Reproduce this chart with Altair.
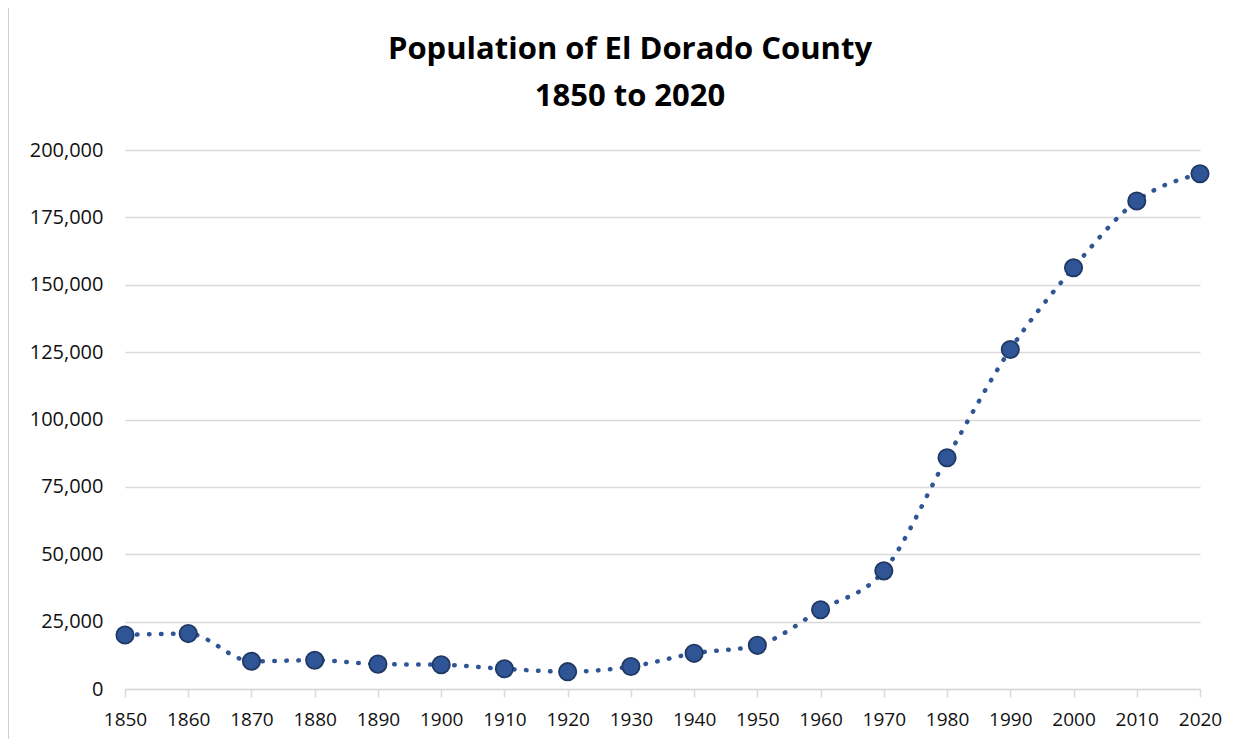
import altair as alt
import pandas as pd

years = [1850, 1860, 1870, 1880, 1890, 1900, 1910, 1920, 1930, 1940,
         1950, 1960, 1970, 1980, 1990, 2000, 2010, 2020]
population = [20057, 20562, 10309, 10683, 9232, 8986, 7492, 6426, 8325, 13229,
              16207, 29390, 43833, 85812, 125995, 156299, 181058, 191185]
y_ticks = [0, 25000, 50000, 75000, 100000, 125000, 150000, 175000, 200000]
title_lines = ["Population of El Dorado County", "1850 to 2020"]

df = pd.DataFrame({"year": years, "pop": population})

FONT = "Open Sans"
x = alt.X("year:Q", scale=alt.Scale(domain=[1850, 2020], nice=False, zero=False),
          axis=alt.Axis(values=years, format="d", title=None, grid=False,
                        domainColor="#d9d9d9", domainWidth=1.5,
                        tickColor="#d9d9d9", tickWidth=1.5, tickSize=8,
                        labelFontSize=19, labelColor="#111111", labelFont=FONT,
                        labelPadding=13, labelFlush=False))
y = alt.Y("pop:Q", scale=alt.Scale(domain=[0, 200000], nice=False),
          axis=alt.Axis(values=y_ticks, format=",d", title=None, domain=False,
                        ticks=False, gridColor="#d9d9d9", gridWidth=1.5,
                        labelFontSize=20, labelColor="#111111", labelFont=FONT,
                        labelPadding=22))

base = alt.Chart(df)
line = base.mark_line(interpolate="monotone", color="#2F5597", strokeWidth=4.5,
                      strokeDash=[0.5, 11.5], strokeCap="round").encode(x=x, y=y)
pts = base.mark_point(filled=True, size=300, color="#2F5597", stroke="#1F3864",
                      strokeWidth=1.8, opacity=1, shape="circle").encode(x=x, y=y)

tbase = alt.Chart(pd.DataFrame({"k": [0]}))
t_style = dict(font=FONT, fontSize=31, fontWeight="bold", color="#000000",
               align="center", baseline="middle")
t1 = tbase.mark_text(**t_style).encode(
    text=alt.value(title_lines[0]), x=alt.value(505), y=alt.value(-100))
t2 = tbase.mark_text(**t_style).encode(
    text=alt.value(title_lines[1]), x=alt.value(505), y=alt.value(-53))
border = tbase.mark_rule(color="#d0d0d0", strokeWidth=2).encode(
    x=alt.value(-117), y=alt.value(-145), y2=alt.value(595))

chart = alt.layer(border, line, pts, t1, t2).properties(
    width=1075, height=539,
    autosize=alt.AutoSizeParams(type="none"),
    padding={"left": 117, "top": 142, "right": 40, "bottom": 50},
).configure_view(stroke=None)

chart.save("out.html", embed_options={"renderer": "svg", "actions": False})
